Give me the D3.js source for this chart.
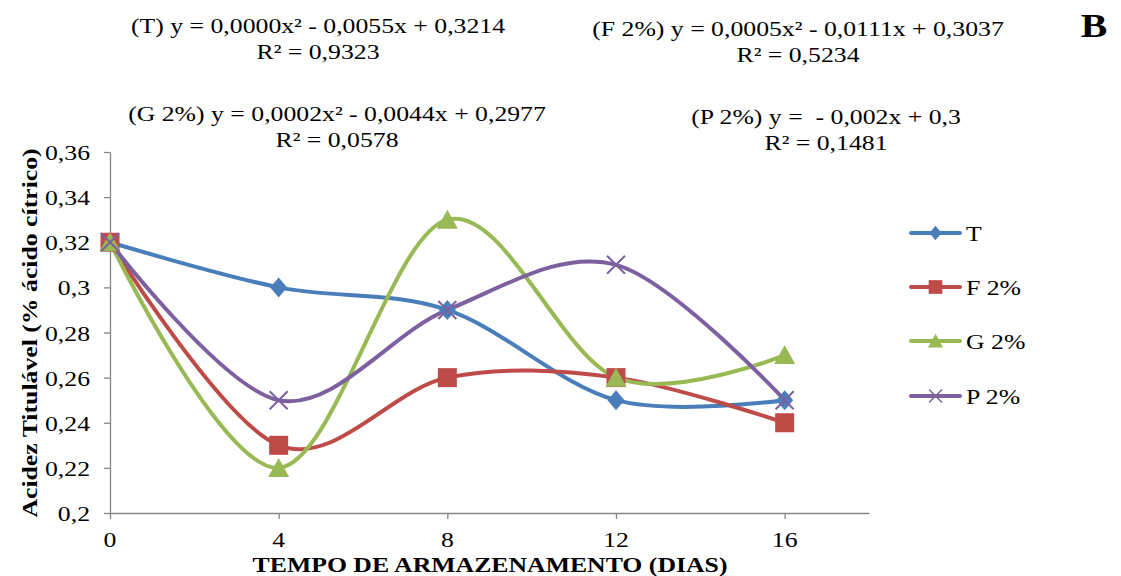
<!DOCTYPE html>
<html>
<head>
<meta charset="utf-8">
<script src="https://cdn.jsdelivr.net/npm/d3@7"></script>
<style>
  body { margin: 0; background: #fff; }
  text { font-family: "Liberation Serif", "Times New Roman", serif; fill: #000; white-space: pre; }
</style>
</head>
<body>
<svg id="chart" width="1121" height="576"></svg>
<script>
// days of storage
const dias = [0, 4, 8, 12, 16];

// titratable acidity per treatment
const serieT = [0.32, 0.30, 0.29, 0.25, 0.25];
const serieF = [0.32, 0.23, 0.26, 0.26, 0.24];
const serieG = [0.32, 0.22, 0.33, 0.26, 0.27];
const serieP = [0.32, 0.25, 0.29, 0.31, 0.25];

const nomes = ["T", "F 2%", "G 2%", "P 2%"];
const yTicks = [0.2, 0.22, 0.24, 0.26, 0.28, 0.3, 0.32, 0.34, 0.36];

// regression labels (text only)
const equacoes = [
  { eq: "(T) y = 0,0000x² - 0,0055x + 0,3214", r2: "R² = 0,9323", cx: 318, y: 33 },
  { eq: "(F 2%) y = 0,0005x² - 0,0111x + 0,3037", r2: "R² = 0,5234", cx: 798, y: 36 },
  { eq: "(G 2%) y = 0,0002x² - 0,0044x + 0,2977", r2: "R² = 0,0578", cx: 337, y: 121 },
  { eq: "(P 2%) y =  - 0,002x + 0,3", r2: "R² = 0,1481", cx: 826, y: 124 }
];

const cores = ["#4a7ebb", "#be4b48", "#98b954", "#7d60a0"];
const series = [serieT, serieF, serieG, serieP];

const FS = 22;     // font size
const SX = 1.17;   // the source font is drawn wider than Liberation Serif

const svg = d3.select("#chart");

const x = d3.scaleLinear().domain([0, 18]).range([110, 869]);
const y = d3.scaleLinear().domain([0.2, 0.36]).range([513, 152]);

const fmt = d => String(+d.toFixed(2)).replace(".", ",");

// text stretched horizontally around its anchor point
function texto(parent, tx, ty, str, opts) {
  opts = opts || {};
  const g = parent.append("g")
    .attr("transform", `translate(${tx},${ty}) ${opts.rot ? "rotate(" + opts.rot + ")" : ""} scale(${SX},1)`);
  return g.append("text")
    .attr("text-anchor", opts.anchor || "middle")
    .attr("font-size", opts.size || FS)
    .attr("font-weight", opts.bold ? "bold" : null)
    .text(str);
}

// axes
const xAxis = svg.append("g")
  .attr("transform", "translate(0,513)")
  .call(d3.axisBottom(x).tickValues(dias).tickSize(6).tickSizeOuter(0));
const yAxis = svg.append("g")
  .attr("transform", "translate(110,0)")
  .call(d3.axisLeft(y).tickValues(yTicks).tickFormat(fmt).tickSize(6).tickSizeOuter(0));

[xAxis, yAxis].forEach(a => {
  a.select(".domain").attr("stroke", "#868686").attr("stroke-width", 1.3);
  a.selectAll(".tick line").attr("stroke", "#868686").attr("stroke-width", 1.3);
  a.selectAll(".tick text").remove();
});

const gTicks = svg.append("g");
dias.forEach(d => texto(gTicks, x(d), 547, String(d)));
yTicks.forEach(v => texto(gTicks, 90, y(v) + 8, fmt(v), { anchor: "end" }));

// axis titles
texto(svg, 490, 572, "TEMPO DE ARMAZENAMENTO (DIAS)", { bold: true });
texto(svg, 37, 333, "Acidez Titulável (% ácido cítrico)", { bold: true, rot: -90 });

// lines
const linha = d3.line()
  .x((d, i) => x(dias[i]))
  .y(d => y(d))
  .curve(d3.curveCardinal.tension(0));

const gLines = svg.append("g");
series.forEach((s, k) => {
  gLines.append("path")
    .datum(s)
    .attr("d", linha)
    .attr("fill", "none")
    .attr("stroke", cores[k])
    .attr("stroke-width", 4);
});

// markers, e = size factor
function marcador(g, k, cx, cy, e) {
  const c = cores[k];
  const m = g.append("g").attr("transform", `translate(${cx},${cy}) scale(${e})`);
  if (k === 0) {
    m.append("path").attr("d", "M0,-10L8.5,0L0,10L-8.5,0Z").attr("fill", c);
  } else if (k === 1) {
    m.append("rect").attr("x", -9.5).attr("y", -9.5).attr("width", 19).attr("height", 19).attr("fill", c);
  } else if (k === 2) {
    m.append("path").attr("d", "M0,-10L10.5,9L-10.5,9Z").attr("fill", c);
  } else {
    m.append("path")
      .attr("d", "M-9,-9L9,9M-9,9L9,-9")
      .attr("stroke", c).attr("stroke-width", 2).attr("fill", "none");
  }
}

const gMarks = svg.append("g");
series.forEach((s, k) => {
  s.forEach((v, i) => marcador(gMarks, k, x(dias[i]), y(v), 1));
});

// legend
const legY = [233, 287, 341, 396];
const leg = svg.append("g");
nomes.forEach((n, k) => {
  leg.append("line")
    .attr("x1", 911).attr("x2", 960)
    .attr("y1", legY[k]).attr("y2", legY[k])
    .attr("stroke", cores[k]).attr("stroke-width", 4).attr("stroke-linecap", "round");
  marcador(leg, k, 935.5, legY[k], 0.72);
  texto(leg, 966, legY[k] + 8, n, { anchor: "start" });
});

// equations
const gEq = svg.append("g");
equacoes.forEach(e => {
  texto(gEq, e.cx, e.y, e.eq);
  texto(gEq, e.cx, e.y + 26, e.r2);
});

texto(svg, 1094, 37, "B", { bold: true, size: 34 });
</script>
</body>
</html>
